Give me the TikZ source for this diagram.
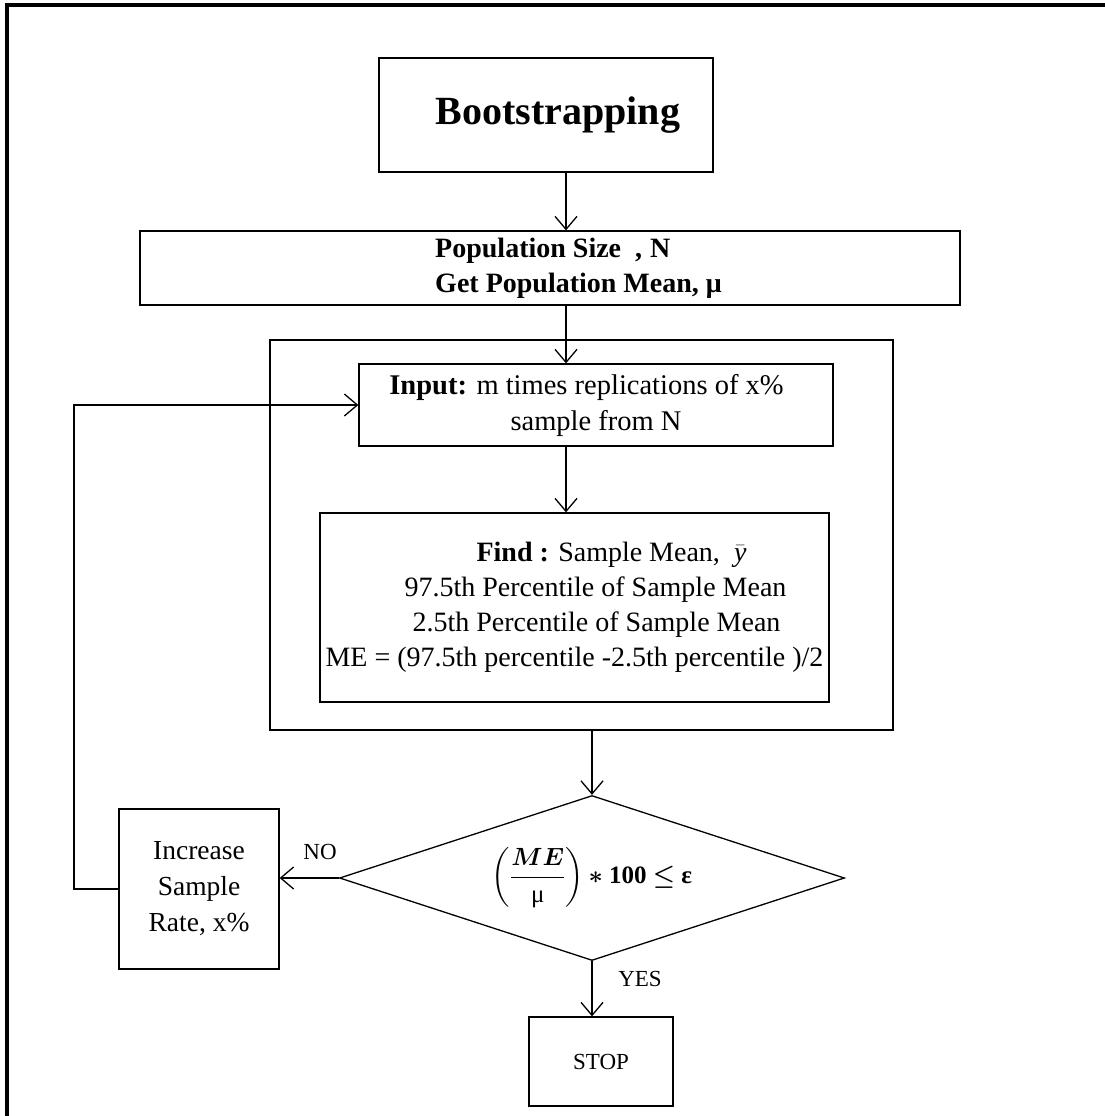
\documentclass[tikz,border=0pt]{standalone}
\usepackage{amsmath}
\usepackage{fontspec}
\setmainfont{Liberation Serif}
\usetikzlibrary{shapes.geometric, arrows.meta, positioning, calc}

\tikzset{
  box/.style={rectangle, draw=black, line width=1.3pt, align=center,
    inner sep=0pt},
  decision/.style={diamond, draw=black, line width=1.3pt, inner sep=0pt,
    aspect=3.06, minimum width=505pt, minimum height=165pt},
  arrow/.style={-{Straight Barb[length=13pt,width=22pt]}, line width=1.3pt},
  line/.style={line width=1.3pt},
  lbl/.style={font=\fontsize{23}{28}\selectfont}
}

\begin{document}
\begin{tikzpicture}[x=1pt, y=-1pt]
  \useasboundingbox (0,0) rectangle (1105,1116);
  % page frame
  \draw[line width=3.5pt] (1105,5) -- (7,5) -- (7,1116);
  % helper columns
  \coordinate (xa) at (566,0);
  \coordinate (xb) at (74,0);
  % boxes
  \node[box, minimum width=334pt, minimum height=114pt,
    font=\fontsize{40}{46}\selectfont\bfseries] (boot) at (546,115)
    {\hspace*{24pt}Bootstrapping};
  \node[box, align=left, minimum width=820pt, minimum height=74pt,
    font=\fontsize{28}{35}\selectfont\bfseries] (pop) at (550,268)
    {\hspace*{57pt}Population Size\hspace{14pt},\hspace{8pt}N\\
     \hspace*{57pt}Get Population Mean, μ};
  \node[box, minimum width=623pt, minimum height=390pt] (outer) at (581.5,535) {};
  \node[box, minimum width=474pt, minimum height=82pt,
    font=\fontsize{28.5}{36}\selectfont] (input) at (596,405)
    {\textbf{Input:} m times replications of x\%\hspace*{19pt}\\ sample from N};
  \node[box, minimum width=509pt, minimum height=189pt,
    font=\fontsize{28}{35}\selectfont] (find) at (574.5,607.5)
    {\hspace*{74pt}\textbf{Find :} Sample Mean, \ $\bar{\textit{y}}$\\
     \hspace*{42pt}97.5th Percentile of Sample Mean\\
     \hspace*{44pt}2.5th Percentile of Sample Mean\\
     ME = (97.5th percentile -2.5th percentile )/2};
  % test
  \node[decision, font=\fontsize{25}{30}\selectfont] (test) at (592,878)
    {{\boldmath$\left(\dfrac{ME}{\text{μ}}\right)\ast$} \textbf{100}
     $\boldsymbol{\leq}$ \textbf{ε}};
  \node[box, minimum width=160pt, minimum height=160pt,
    font=\fontsize{27.5}{36}\selectfont] (incr) at (199,889)
    {Increase\\ Sample\\ Rate, x\%};
  \node[box, minimum width=144pt, minimum height=89pt,
    font=\fontsize{23}{28}\selectfont] (stop) at (601,1061.5) {STOP};
  \node[lbl] (no) at (320,852) {NO};
  \node[lbl] (yes) at (640,979) {YES};
  % connectors
  \draw[arrow] (boot.south -| xa) -- (pop.north -| xa);
  \draw[arrow] (pop.south -| xa) -- (input.north -| xa);
  \draw[arrow] (input.south -| xa) -- (find.north -| xa);
  \draw[arrow] (outer.south -| test.north) -- (test.north);
  \draw[arrow] (test.west) -- (test.west -| incr.east);
  \draw[arrow] (incr.west) -- (incr.west -| xb) |- (input.west);
  \draw[arrow] (test.south) -- (test.south |- stop.north);
\end{tikzpicture}
\end{document}
